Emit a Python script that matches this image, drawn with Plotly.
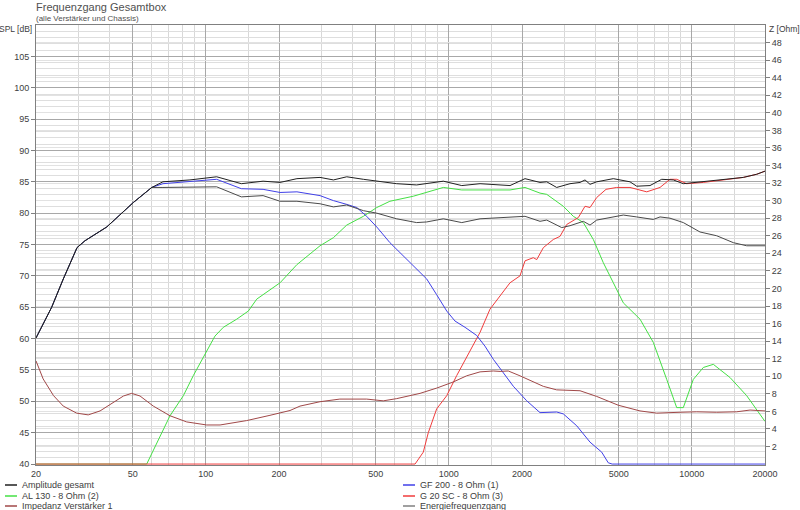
import plotly.graph_objects as go

# Frequenzgang Gesamtbox
amp_f = [20, 23.2, 25.9, 29.5, 31.8, 39.1, 50.3, 59.9, 66.6, 86, 110.8, 140, 172, 202, 237, 295,
         335, 380, 445, 505, 610, 737, 811, 949, 1130, 1344, 1785, 2058, 2372, 2528, 2778, 3152,
         3466, 3634, 3810, 4060, 4752, 5564, 5930, 6726, 7516, 8388, 9222, 11148, 14356, 16282,
         18488, 20000]
amp_db = [60.1, 65.0, 69.5, 74.5, 75.6, 77.8, 81.7, 84.1, 85.0, 85.3, 85.8, 84.7, 85.1, 84.9, 85.5, 85.7,
          85.3, 85.8, 85.4, 85.1, 84.7, 84.5, 84.7, 85.1, 84.4, 84.7, 84.4, 85.5, 84.9, 85.0, 84.1, 84.7,
          84.9, 85.3, 84.6, 85.0, 85.5, 85.0, 84.3, 84.4, 85.4, 85.3, 84.7, 85.0, 85.5, 85.7,
          86.2, 86.7]

energy_f = [20, 23.2, 25.9, 29.5, 31.8, 39.1, 50.3, 59.9, 66.6, 86, 110.8, 140, 172, 202, 237, 295,
            335, 380, 445, 505, 610, 737, 811, 949, 1130, 1344, 1785, 2058, 2372, 2528, 2914, 3152,
            3576, 3810, 4060, 5224, 5930, 6940, 7396, 8130, 9222, 10804, 12656, 14810, 16816, 20000]
energy_db = [60.1, 65.0, 69.5, 74.5, 75.6, 77.8, 81.7, 84.1, 84.1, 84.2, 84.2, 82.6, 82.8, 81.9, 81.9, 81.5,
             81.0, 81.3, 80.4, 80.0, 79.1, 78.5, 78.6, 79.1, 78.5, 79.1, 79.3, 79.5, 78.7, 78.9, 77.7, 78.0,
             78.7, 78.1, 78.9, 79.7, 79.4, 79.0, 79.4, 79.2, 78.5, 77.0, 76.4, 75.3, 74.8, 74.8]

gf200_f = [20, 23.2, 25.9, 29.5, 31.8, 39.1, 50.3, 59.9, 66.6, 86, 110.8, 140, 172, 202, 237, 295,
           335, 380, 418, 459, 505, 572, 671, 811, 891, 980, 1060, 1166, 1302, 1408, 1524, 1650,
           1842, 2090, 2372, 2778, 2958, 3360, 3810, 4256, 4530, 4700, 20000]
gf200_db = [60.1, 65.0, 69.5, 74.5, 75.6, 77.8, 81.7, 84.1, 84.7, 85.0, 85.4, 83.9, 83.8, 83.3, 83.4, 82.8,
            82.0, 81.4, 80.9, 79.5, 77.8, 75.3, 72.6, 69.5, 67.0, 64.4, 62.8, 61.8, 60.5, 58.8, 56.7, 54.9,
            52.4, 50.1, 48.2, 48.3, 48.0, 46.1, 43.5, 41.9, 40.2, 40.0, 40.0]

al130_f = [20, 57.1, 71.2, 80.8, 88.8, 99.2, 109, 118, 134, 149.6, 162, 202, 237, 295, 335, 380,
           445, 505, 572, 714, 811, 949, 1130, 1344, 1785, 2058, 2372, 2528, 2958, 3252, 3576, 3932,
           4322, 4752, 5224, 6118, 6940, 7880, 8662, 9222, 10140, 11148, 12256, 14356, 16816, 20000]
al130_db = [40.0, 40.0, 47.7, 50.9, 54.1, 57.5, 60.4, 61.8, 63.1, 64.4, 66.3, 68.9, 71.8, 74.8, 76.1, 78.1,
            79.5, 80.9, 81.9, 82.7, 83.3, 84.1, 83.7, 83.7, 83.7, 84.1, 83.2, 83.0, 81.1, 79.5, 78.5, 75.8,
            72.1, 68.9, 65.7, 63.1, 59.4, 53.5, 49.0, 49.0, 53.5, 55.4, 55.9, 53.8, 50.9, 46.8]

g20_f = [20, 726, 785, 823, 891, 980, 1077, 1184, 1344, 1477, 1624, 1785, 1962, 2058, 2226, 2300,
         2448, 2690, 2866, 3056, 3410, 3634, 3810, 4060, 4434, 4906, 5564, 6522, 7396, 8130, 8662,
         9522, 11148, 14356, 16282, 18488, 20000]
g20_db = [40.0, 40.0, 41.9, 45.0, 48.8, 50.9, 54.1, 57.0, 61.0, 64.7, 66.8, 68.9, 70.0, 72.4, 72.9, 72.6,
          74.5, 75.8, 76.3, 78.2, 79.3, 81.1, 80.9, 82.5, 83.8, 84.1, 84.1, 83.4, 84.1, 85.4, 85.4,
          84.7, 84.9, 85.5, 85.7, 86.2, 86.7]

imp_f = [20, 21.4, 23.6, 25.9, 29.4, 32.8, 36.7, 41.6, 45.8, 49.5, 53.6, 60.8, 71.2, 83.4, 100.8, 114.4,
         147.2, 183.6, 222, 244, 295, 356, 418, 459, 537, 610, 761, 891, 1043, 1184, 1344, 1524,
         1624, 1756, 1962, 2158, 2448, 2778, 3466, 4060, 4980, 6118, 7168, 8938, 10470, 12656,
         15292, 17356, 20000]
imp_ohm = [11.75, 9.7, 7.8, 6.6, 5.8, 5.6, 6.05, 7.0, 7.75, 8.05, 7.75, 6.6, 5.5, 4.8, 4.45, 4.45,
           4.95, 5.55, 6.1, 6.6, 7.1, 7.4, 7.45, 7.4, 7.2, 7.45, 8.05, 8.65, 9.35, 10.05, 10.5, 10.6,
           10.55, 10.6, 10.05, 9.5, 8.85, 8.45, 8.35, 7.7, 6.7, 6.05, 5.8, 5.9, 5.95, 5.9,
           5.95, 6.15, 6.05]

freq_ticks = [20, 50, 100, 200, 500, 1000, 2000, 5000, 10000, 20000]
freq_minor = [30, 40, 60, 70, 80, 90, 150, 300, 400, 600, 700, 800, 900, 1500,
              3000, 4000, 6000, 7000, 8000, 9000, 15000]
spl_ticks = list(range(40, 110, 5))
ohm_ticks = list(range(2, 50, 2))

series = [
    ("Impedanz Verstärker 1", imp_f, imp_ohm, "#a04848", "y2"),
    ("AL 130 - 8 Ohm (2)", al130_f, al130_db, "#44e044", "y"),
    ("G 20 SC - 8 Ohm (3)", g20_f, g20_db, "#f03c3c", "y"),
    ("GF 200 - 8 Ohm (1)", gf200_f, gf200_db, "#4040e8", "y"),
    ("Energiefrequenzgang", energy_f, energy_db, "#4a4a4a", "y"),
    ("Amplitude gesamt", amp_f, amp_db, "#202020", "y"),
]

FONT = "Liberation Sans"
W, H = 800, 510
L, R, T, B = 36, 35, 25, 45


def px(x):
    return (x - L) / (W - L - R)


def py(y):
    return (H - B - y) / (H - T - B)


fig = go.Figure()
for name, f, v, col, ax in series:
    fig.add_trace(go.Scatter(x=f, y=v, name=name, mode="lines", yaxis=ax,
                             line=dict(color=col, width=1), showlegend=False))

fig.update_layout(
    width=W, height=H,
    margin=dict(l=L, r=R, t=T, b=B, autoexpand=False),
    paper_bgcolor="white", plot_bgcolor="white",
    font=dict(family=FONT, size=9, color="#404040"),
    xaxis=dict(type="log", range=[1.30103, 4.30103], tickvals=freq_ticks, automargin=False,
               ticktext=[str(v) for v in freq_ticks], showgrid=True, gridcolor="#a8a8a8",
               gridwidth=1, ticks="", showline=True, linecolor="#808080", mirror=True,
               zeroline=False, tickfont=dict(size=9, color="#404040"),
               minor=dict(tickvals=freq_minor, showgrid=True, gridcolor="#d8d8d8", ticks="")),
    yaxis=dict(range=[39.85, 110], tickvals=spl_ticks, showgrid=True, gridcolor="#a8a8a8",
               ticks="outside", ticklen=4, tickcolor="#808080", showline=True, automargin=False,
               linecolor="#808080", zeroline=False, tickfont=dict(size=9, color="#404040"),
               minor=dict(dtick=1, showgrid=True, gridcolor="#dedede")),
    yaxis2=dict(range=[-0.107, 50], overlaying="y", side="right", tickvals=ohm_ticks,
                showgrid=True, gridcolor="#e2e2e2", ticks="outside", ticklen=4, automargin=False,
                tickcolor="#808080", showline=True, linecolor="#808080", zeroline=False,
                tickfont=dict(size=9, color="#404040")),
)

# titles and axis captions
fig.add_annotation(text="Frequenzgang Gesamtbox", xref="paper", yref="paper", x=px(34), y=py(7),
                   xanchor="left", yanchor="middle", showarrow=False,
                   font=dict(size=11, color="#505050"))
fig.add_annotation(text="(alle Verstärker und Chassis)", xref="paper", yref="paper", x=px(34),
                   y=py(18.5), xanchor="left", yanchor="middle", showarrow=False,
                   font=dict(size=8, color="#505050"))
fig.add_annotation(text="SPL [dB]", xref="paper", yref="paper", x=px(34), y=py(29),
                   xanchor="right", yanchor="middle", showarrow=False,
                   font=dict(size=8.5, color="#404040"))
fig.add_annotation(text="Z [Ohm]", xref="paper", yref="paper", x=px(767), y=py(29),
                   xanchor="left", yanchor="middle", showarrow=False,
                   font=dict(size=8.5, color="#404040"))

# legend in two columns below the plot
legend_pos = {
    "Amplitude gesamt": (5, 485), "AL 130 - 8 Ohm (2)": (5, 496),
    "Impedanz Verstärker 1": (5, 506), "GF 200 - 8 Ohm (1)": (403, 485),
    "G 20 SC - 8 Ohm (3)": (403, 496), "Energiefrequenzgang": (403, 506),
}
legend_color = {name: col for name, f, v, col, ax in series}
legend_color["Energiefrequenzgang"] = "#808080"
for name, (lx, ly) in legend_pos.items():
    fig.add_shape(type="line", xref="paper", yref="paper", x0=px(lx), x1=px(lx + 12),
                  y0=py(ly), y1=py(ly), line=dict(color=legend_color[name], width=1.5))
    fig.add_annotation(text=name, xref="paper", yref="paper", x=px(lx + 15), y=py(ly),
                       xanchor="left", yanchor="middle", showarrow=False,
                       font=dict(size=9, color="#404040"))

fig.write_html("out.html", config={"displayModeBar": False},
               post_script="document.body.style.margin='0';")
